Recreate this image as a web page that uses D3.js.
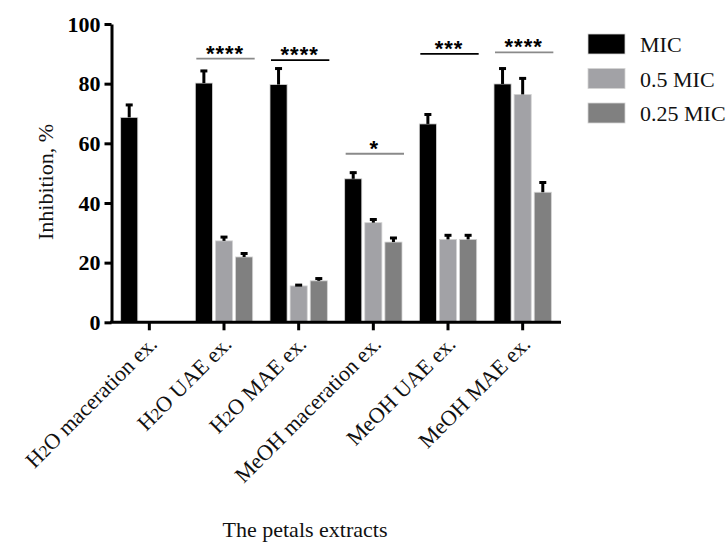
<!DOCTYPE html>
<html>
<head>
<meta charset="utf-8">
<script src="https://cdn.jsdelivr.net/npm/d3@7"></script>
<style>
    body { margin: 0; background: #fff; }
    svg { display: block; font-family: "Liberation Serif", serif; }
</style>
</head>
<body>
<div id="chart"></div>
<script>
const categories = ["H2O maceration ex.", "H2O UAE ex.", "H2O MAE ex.",
    "MeOH maceration ex.", "MeOH UAE ex.", "MeOH MAE ex."]
const seriesNames = ["MIC", "0.5 MIC", "0.25 MIC"]
const micValues = [68.7, 80.2, 79.7, 48.1, 66.5, 79.9]
const micErrors = [4.5, 4.4, 5.7, 2.4, 3.5, 5.5]
const halfMicValues = [0, 27.3, 12.2, 33.4, 27.8, 76.4]
const halfMicErrors = [0, 1.6, 0.6, 1.4, 1.7, 5.7]
const quarterMicValues = [0, 21.9, 13.9, 26.9, 27.8, 43.6]
const quarterMicErrors = [0, 1.5, 1.1, 1.7, 1.7, 3.6]
const yTicks = [0, 20, 40, 60, 80, 100]
const sigStars = ["", "****", "****", "*", "***", "****"]
const sigLevels = [null, 88.4, 87.9, 56.5, 90, 90.5]

const seriesColors = ["#000000", "#a2a2a6", "#808080"]
const sigColors = ["#000", "#8a8a8a", "#000", "#8a8a8a", "#000", "#8a8a8a"]

const seriesValues = [micValues, halfMicValues, quarterMicValues]
const seriesErrors = [micErrors, halfMicErrors, quarterMicErrors]

const bars = []
categories.forEach((cat, i) => {
    seriesNames.forEach((s, j) => {
        bars.push({ cat: cat, series: s, value: seriesValues[j][i], err: seriesErrors[j][i] })
    })
})

const width = 728
const height = 544
const margin = { top: 24, left: 112, right: 168, bottom: 221 }

const svg = d3.select("#chart").append("svg")
    .attr("width", width)
    .attr("height", height)

const xScale = d3.scaleBand()
    .domain(categories)
    .range([margin.left, width - margin.right])
    .padding(0)

const groupInset = xScale.bandwidth() * 0.116
const innerScale = d3.scaleBand()
    .domain(seriesNames)
    .range([groupInset, xScale.bandwidth() - groupInset])
    .paddingInner(0.15)

const yScale = d3.scaleLinear()
    .domain([0, 100])
    .range([height - margin.bottom - 0.7, margin.top])

const colorScale = d3.scaleOrdinal()
    .domain(seriesNames)
    .range(seriesColors)

// bars
const barGroup = svg.append("g")
barGroup.selectAll("rect")
    .data(bars.filter(d => d.value > 0))
    .enter()
    .append("rect")
    .attr("x", d => xScale(d.cat) + innerScale(d.series))
    .attr("y", d => yScale(d.value))
    .attr("width", innerScale.bandwidth())
    .attr("height", d => yScale(0) - yScale(d.value))
    .style("fill", d => colorScale(d.series))
    .style("stroke", "#d4d4d4")
    .style("stroke-width", 0.8)

// error bars (upper only)
const errGroup = svg.append("g")
    .style("stroke", "#000")
    .style("stroke-width", 3)
const errBars = bars.filter(d => d.value > 0)
errGroup.selectAll("line.stem")
    .data(errBars)
    .enter()
    .append("line")
    .attr("class", "stem")
    .attr("x1", d => xScale(d.cat) + innerScale(d.series) + innerScale.bandwidth() / 2)
    .attr("x2", d => xScale(d.cat) + innerScale(d.series) + innerScale.bandwidth() / 2)
    .attr("y1", d => yScale(d.value))
    .attr("y2", d => yScale(d.value + d.err))
errGroup.selectAll("line.cap")
    .data(errBars)
    .enter()
    .append("line")
    .attr("class", "cap")
    .attr("x1", d => xScale(d.cat) + innerScale(d.series) + innerScale.bandwidth() / 2 - 3.5)
    .attr("x2", d => xScale(d.cat) + innerScale(d.series) + innerScale.bandwidth() / 2 + 3.5)
    .attr("y1", d => yScale(d.value + d.err) + 1)
    .attr("y2", d => yScale(d.value + d.err) + 1)

// axes
const yAxis = d3.axisLeft(yScale)
    .tickValues(yTicks)
    .tickSize(7)
    .tickSizeOuter(0)
    .tickPadding(4)
const yAxisG = svg.append("g")
    .attr("transform", "translate(" + (margin.left - 0.5) + ",0)")
    .call(yAxis)
yAxisG.select(".domain").attr("stroke-width", 3)
yAxisG.selectAll(".tick line").attr("stroke-width", 3)
yAxisG.selectAll(".tick text")
    .style("font-family", "'Liberation Serif', serif")
    .style("font-size", "22px")
    .style("font-weight", "bold")
    .attr("fill", "#000")

const xAxis = d3.axisBottom(xScale)
    .tickSize(8)
    .tickSizeOuter(0)
    .tickFormat("")
const xAxisG = svg.append("g")
    .attr("transform", "translate(0," + yScale(0) + ")")
    .call(xAxis)
xAxisG.select(".domain")
    .attr("stroke-width", 3)
    .attr("d", "M" + (margin.left - 2) + ",0H" + (width - margin.right + 1))
xAxisG.selectAll(".tick line").attr("stroke-width", 3)

// rotated category labels
const xLabels = svg.append("g")
    .style("font-size", "22px")
xLabels.selectAll("text")
    .data(categories)
    .enter()
    .append("text")
    .attr("transform", d => "translate(" + (xScale(d) + xScale.bandwidth() / 2 + 9) + "," + (yScale(0) + 23) + ") rotate(-45)")
    .attr("text-anchor", "end")
    .attr("fill", "#111")
    .each(function (d) {
        const t = d3.select(this)
        const m = d.match(/^H2O(.*)$/)
        if (m) {
            t.append("tspan").text("H")
            t.append("tspan").style("font-size", "17px").text("2")
            t.append("tspan").text("O" + m[1])
        } else {
            t.text(d)
        }
    })

// axis titles
svg.append("text")
    .attr("transform", "translate(53,182) rotate(-90)")
    .attr("text-anchor", "middle")
    .style("font-size", "22px")
    .attr("fill", "#111")
    .text("Inhibition, %")

svg.append("text")
    .attr("x", 305)
    .attr("y", 537)
    .attr("text-anchor", "middle")
    .style("font-size", "22px")
    .attr("fill", "#111")
    .text("The petals extracts")

// significance annotations
const sigData = categories.map((cat, i) => ({ cat: cat, stars: sigStars[i], level: sigLevels[i], color: sigColors[i] }))
    .filter(d => d.level !== null)
const sigGroup = svg.append("g")
sigGroup.selectAll("line")
    .data(sigData)
    .enter()
    .append("line")
    .attr("x1", d => xScale(d.cat) + groupInset + 1)
    .attr("x2", d => xScale(d.cat) + xScale.bandwidth() - groupInset + 2)
    .attr("y1", d => yScale(d.level))
    .attr("y2", d => yScale(d.level))
    .style("stroke", d => d.color)
    .style("stroke-width", 1.8)
sigGroup.selectAll("text")
    .data(sigData)
    .enter()
    .append("text")
    .attr("x", d => xScale(d.cat) + xScale.bandwidth() / 2 + 1)
    .attr("y", d => yScale(d.level) + 2)
    .attr("text-anchor", "middle")
    .style("font-family", "'Liberation Sans', sans-serif")
    .style("font-weight", "bold")
    .style("font-size", "22px")
    .style("letter-spacing", "1px")
    .attr("fill", "#000")
    .text(d => d.stars)

// legend
const legend = svg.append("g")
    .attr("transform", "translate(588,34)")
const legendItems = legend.selectAll("g")
    .data(seriesNames)
    .enter()
    .append("g")
    .attr("transform", (d, i) => "translate(0," + i * 34.5 + ")")
legendItems.append("rect")
    .attr("width", 37)
    .attr("height", 20)
    .style("fill", d => colorScale(d))
    .style("stroke", "#d4d4d4")
    .style("stroke-width", 0.8)
legendItems.append("text")
    .attr("x", 52)
    .attr("y", 18)
    .style("font-size", "22px")
    .attr("fill", "#111")
    .text(d => d)
</script>
</body>
</html>
